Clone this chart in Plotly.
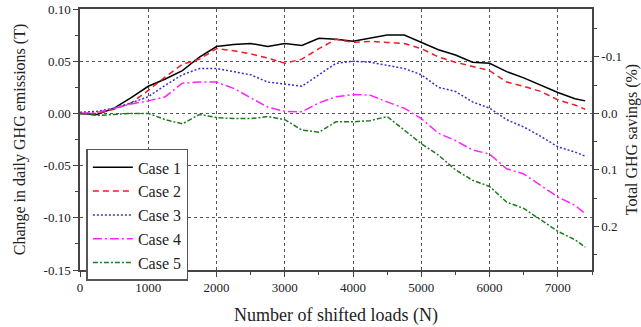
import plotly.graph_objects as go

loads = [0, 250, 500, 750, 1000, 1250, 1500, 1750, 2000, 2250, 2500, 2750, 3000, 3250, 3500,
         3750, 4000, 4250, 4500, 4750, 5000, 5250, 5500, 5750, 6000, 6250, 6500, 6750, 7000,
         7250, 7400]
case1 = [0.000, -0.001, 0.005, 0.015, 0.026, 0.033, 0.041, 0.054, 0.064, 0.066, 0.067, 0.064,
         0.067, 0.065, 0.072, 0.071, 0.069, 0.072, 0.075, 0.075, 0.068, 0.061, 0.056, 0.049,
         0.048, 0.040, 0.034, 0.027, 0.020, 0.014, 0.012]
case2 = [0.000, 0.000, 0.004, 0.010, 0.022, 0.035, 0.047, 0.052, 0.062, 0.060, 0.057, 0.053,
         0.048, 0.052, 0.062, 0.071, 0.068, 0.069, 0.068, 0.067, 0.062, 0.054, 0.049, 0.045,
         0.041, 0.030, 0.026, 0.021, 0.013, 0.008, 0.004]
case3 = [0.001, 0.002, 0.005, 0.010, 0.016, 0.027, 0.037, 0.043, 0.043, 0.040, 0.037, 0.030,
         0.028, 0.026, 0.037, 0.048, 0.050, 0.049, 0.046, 0.043, 0.037, 0.025, 0.021, 0.011,
         0.005, -0.006, -0.013, -0.022, -0.032, -0.037, -0.041]
case4 = [0.000, 0.001, 0.005, 0.009, 0.012, 0.016, 0.029, 0.030, 0.030, 0.024, 0.015, 0.006,
         0.002, 0.0015, 0.010, 0.016, 0.018, 0.0175, 0.011, 0.005, -0.005, -0.019, -0.026,
         -0.035, -0.039, -0.053, -0.058, -0.069, -0.080, -0.088, -0.096]
case5 = [0.000, -0.002, -0.001, 0.000, 0.000, -0.006, -0.010, -0.001, -0.004, -0.005, -0.005,
         -0.003, -0.006, -0.016, -0.018, -0.008, -0.008, -0.007, -0.003, -0.016, -0.029,
         -0.040, -0.054, -0.064, -0.070, -0.085, -0.091, -0.102, -0.113, -0.121, -0.128]

series_names = ["Case 1", "Case 2", "Case 3", "Case 4", "Case 5"]
series_vals = [case1, case2, case3, case4, case5]

left_tickvals = [0.10, 0.05, 0.00, -0.05, -0.10, -0.15]
left_ticktext = ["0.10", "0.05", "0.00", "-0.05", "-0.10", "-0.15"]
right_tickvals = [-0.1, 0.0, 0.1, 0.2]
right_ticktext = ["-0.1", "0.0", "0.1", "0.2"]
x_tickvals = [0, 1000, 2000, 3000, 4000, 5000, 6000, 7000]

colors = ["#000000", "#ee1c24", "#3333cc", "#ff22ff", "#1f7a1f"]
dashes = ["solid", "6px,4px", "2px,2px", "9px,3px,2px,3px", "5px,2px,2px,2px"]

FONT = "Liberation Serif"

fig = go.Figure()
for name, vals, c, d in zip(series_names, series_vals, colors, dashes):
    fig.add_trace(go.Scatter(x=loads, y=vals, mode="lines", name=name,
                             line=dict(color=c, width=1.5, dash=d)))

axis_common = dict(showline=True, linecolor="#444444", linewidth=1.5, ticks="outside",
                   ticklen=5, tickcolor="#444444", tickwidth=1.2, automargin=False,
                   zeroline=False)

fig.update_layout(
    width=641, height=327,
    margin=dict(l=80, r=49, t=9, b=57),
    paper_bgcolor="white", plot_bgcolor="white",
    font=dict(family=FONT, color="#222222", size=13),
    showlegend=True,
    legend=dict(x=0.0125, y=0.464, xanchor="left", yanchor="top",
                bordercolor="#555555", borderwidth=1.5, bgcolor="white",
                font=dict(size=16), traceorder="normal", itemwidth=40,
                tracegroupgap=0),
    xaxis=dict(range=[0, 7500], tickvals=x_tickvals, mirror=True,
               showgrid=True, gridcolor="#555555", griddash="dot", gridwidth=1,
               minor=dict(dtick=500, tick0=0, ticks="outside", ticklen=3, tickcolor="#444444"),
               title=dict(text="Number of shifted loads (N)", standoff=14,
                          font=dict(size=18)),
               **axis_common),
    yaxis=dict(range=[-0.15, 0.10], tickvals=left_tickvals, ticktext=left_ticktext,
               mirror=False,
               showgrid=True, gridcolor="#555555", griddash="dot", gridwidth=1,
               minor=dict(dtick=0.025, tick0=0, ticks="outside", ticklen=3, tickcolor="#444444"),
               title=dict(text="Change in daily GHG emissions (T)", standoff=14,
                          font=dict(size=16)),
               **axis_common),
    yaxis2=dict(overlaying="y", side="right", range=[0.277, -0.1846],
                tickvals=right_tickvals, ticktext=right_ticktext, showgrid=False,
                minor=dict(dtick=0.05, tick0=0, ticks="outside", ticklen=3, tickcolor="#444444"),
                title=dict(text="Total GHG savings (%)", standoff=14,
                           font=dict(size=16)),
                **axis_common),
)

fig.add_trace(go.Scatter(x=[None], y=[None], yaxis="y2", showlegend=False, hoverinfo="skip"))

fig.write_html("out.html")
